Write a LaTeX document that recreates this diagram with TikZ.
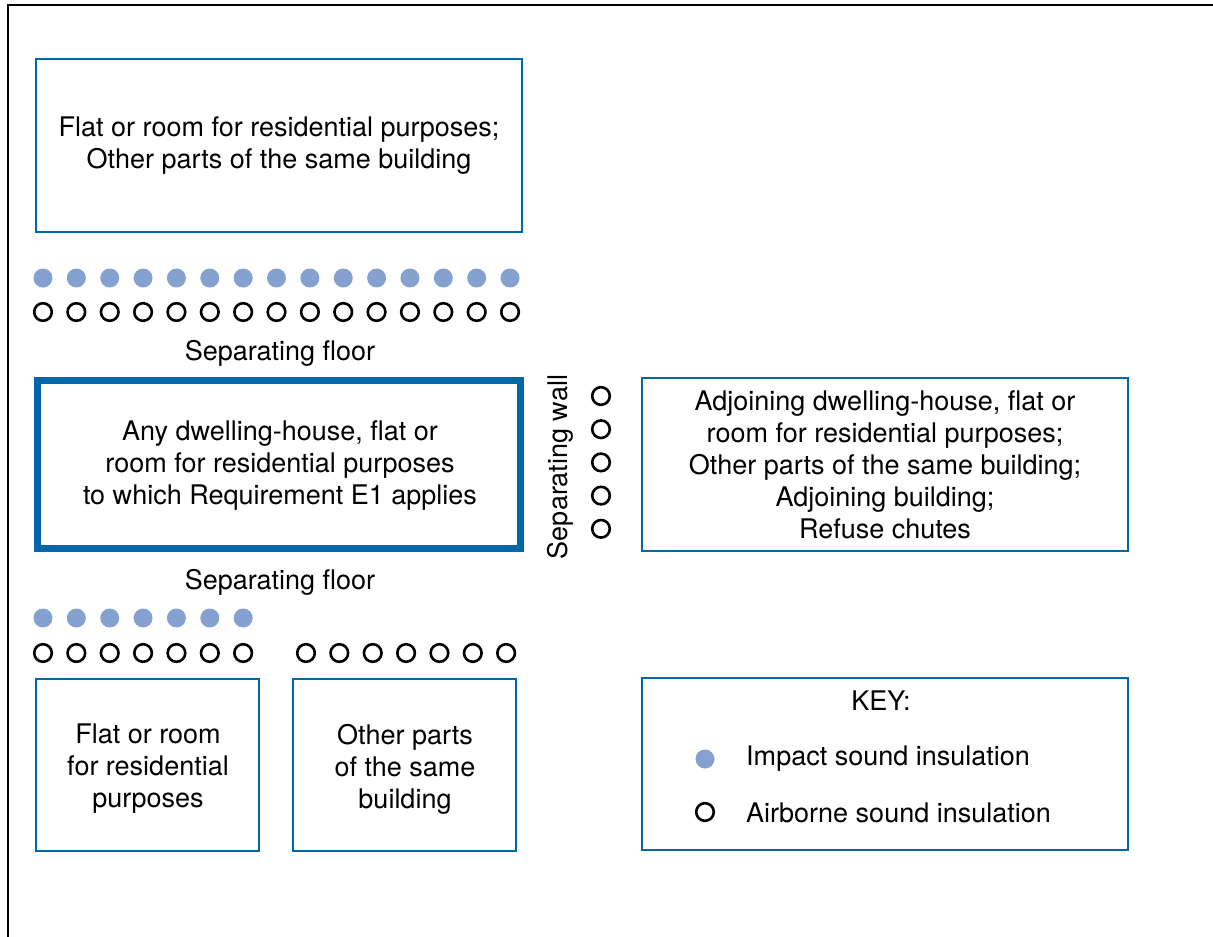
\documentclass[tikz,border=0pt]{standalone}
\usepackage{fontspec}
\setmainfont{TeX Gyre Heros}
\definecolor{boxblue}{RGB}{0,104,168}
\definecolor{dotblue}{RGB}{133,161,208}
\tikzset{
  room/.style={draw=boxblue, line width=2pt, align=center, inner sep=0pt,
    font=\fontsize{27}{32}\selectfont},
  lbl/.style={font=\fontsize{27}{32}\selectfont, inner sep=0pt},
  impact/.style={fill=dotblue},
  airborne/.style={draw=black, line width=2.6pt},
}
\begin{document}
\begin{tikzpicture}[x=1pt,y=-1pt]
\useasboundingbox (0,0) rectangle (1213,937);
\draw[line width=2.5pt] (8,937) -- (8,5) -- (1213,5);

\node[room, minimum width=486, minimum height=173] (top) at (279,145.5) {};
\node[lbl, align=center] (toptxt) at (279,146)
  {Flat or room for residential purposes;\\Other parts of the same building};
\node[room, line width=7pt, minimum width=483, minimum height=168] (main) at (279,464) {};
\node[lbl, align=center] (maintxt) at (280,466)
  {Any dwelling-house, flat or\\room for residential purposes\\to which Requirement E1 applies};
\node[room, minimum width=486, minimum height=173] (adj) at (885,464.5) {};
\node[lbl, align=center] (adjtxt) at (885,465)
  {Adjoining dwelling-house, flat or\\room for residential purposes;\\Other parts of the same building;\\Adjoining building;\\Refuse chutes};
\node[room, minimum width=223, minimum height=172] (flat) at (147.5,765) {};
\node[lbl, align=center] (flattxt) at (148,769)
  {Flat or room\\for residential\\purposes};
\node[room, minimum width=223, minimum height=172] (other) at (404.5,765) {};
\node[lbl, align=center] (othertxt) at (405,769)
  {Other parts\\of the same\\building};
\node[room, minimum width=486, minimum height=172] (key) at (885,764) {};

\node[lbl] (floor1) at (280,353) {Separating floor};
\node[lbl] (floor2) at (280,582) {Separating floor};
\node[lbl, rotate=90] (wall) at (560,467) {Separating wall};

\foreach \i in {0,...,14} {
  \fill[impact] (43+33.36*\i,278) circle (9.5);
  \draw[airborne] (43+33.36*\i,312) circle (8.8);
}
\foreach \i in {0,...,6} {
  \fill[impact] (43+33.36*\i,618) circle (9.5);
  \draw[airborne] (43+33.36*\i,653) circle (8.8);
  \draw[airborne] (306+33.36*\i,653) circle (8.8);
}
\foreach \i in {0,...,4} {
  \draw[airborne] (601,396+33.2*\i) circle (8.8);
}

\node[lbl] (keyt) at (881,701) {KEY:};
\fill[impact] (705,759) circle (9.5);
\node[lbl, anchor=west] (imp) at (746,759) {Impact sound insulation};
\draw[airborne] (705,812) circle (8.8);
\node[lbl, anchor=west] (air) at (746,813) {Airborne sound insulation};
\end{tikzpicture}
\end{document}
